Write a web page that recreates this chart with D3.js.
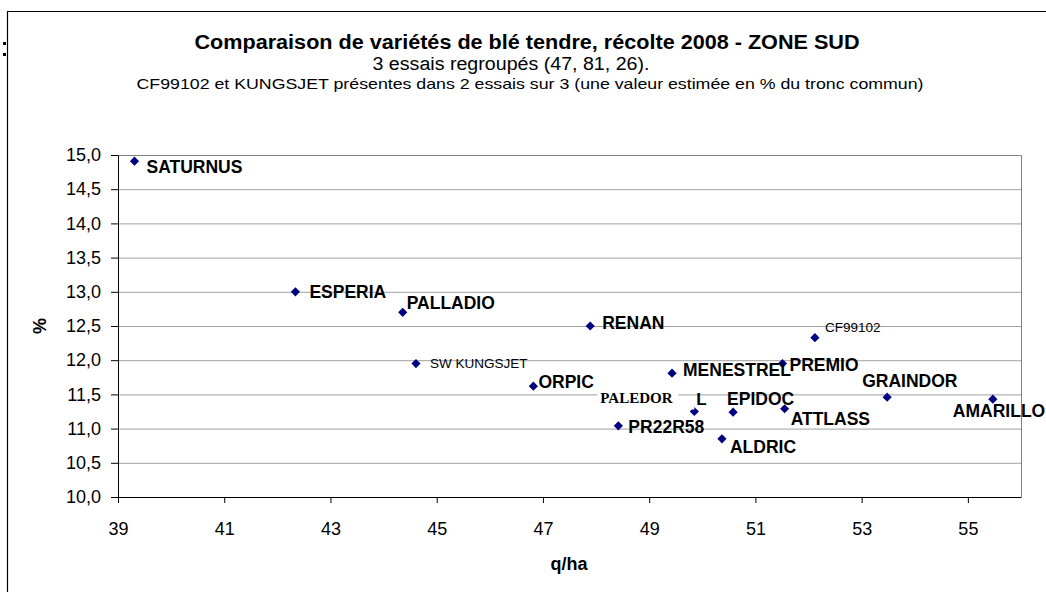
<!DOCTYPE html>
<html>
<head>
<meta charset="utf-8">
<script src="https://cdn.jsdelivr.net/npm/d3@7"></script>
<style>
	body { margin: 0; background: #fff; }
	svg text { font-family: "Liberation Sans", Arial, sans-serif; }
</style>
</head>
<body>
<script>

// data
var varietes = ["SATURNUS", "ESPERIA", "PALLADIO", "SW KUNGSJET", "ORPIC", "RENAN", "CF99102", "MENESTREL",
                "PREMIO", "PALEDOR", "EPIDOC", "ATTLASS", "PR22R58", "ALDRIC", "GRAINDOR", "AMARILLO"];
var rendement = [39.31, 42.34, 44.36, 44.61, 46.82, 47.89, 52.12, 49.43,
                 51.51, 49.85, 50.58, 51.55, 48.42, 50.37, 53.48, 55.47];
var proteines = [14.91, 13.00, 12.70, 11.95, 11.62, 12.50, 12.33, 11.81,
                 11.95, 11.25, 11.24, 11.29, 11.04, 10.85, 11.46, 11.43];
var xTicks = [39, 41, 43, 45, 47, 49, 51, 53, 55];
var yTicks = [10.0, 10.5, 11.0, 11.5, 12.0, 12.5, 13.0, 13.5, 14.0, 14.5, 15.0];

var titre = "Comparaison de variétés de blé tendre, récolte 2008 - ZONE SUD";
var sousTitre = "3 essais regroupés (47, 81, 26).";
var note = "CF99102 et KUNGSJET présentes dans 2 essais sur 3 (une valeur estimée en % du tronc commun)";

// label placement (offset of text start / baseline from the point)
var labelPos = {
	"SATURNUS":    {dx: 12, dy: 12},
	"ESPERIA":     {dx: 14, dy: 6},
	"PALLADIO":    {dx: 4, dy: -3},
	"SW KUNGSJET": {dx: 14, dy: 4, small: true},
	"ORPIC":       {dx: 5, dy: 2},
	"RENAN":       {dx: 12, dy: 3},
	"CF99102":     {dx: 10, dy: -6, small: true},
	"MENESTREL":   {dx: 11, dy: 3},
	"PREMIO":      {dx: 7, dy: 7},
	"PALEDOR":     {dx: -94, dy: -9, serif: true},
	"EPIDOC":      {dx: -6, dy: -7},
	"ATTLASS":     {dx: 6, dy: 16},
	"PR22R58":     {dx: 10, dy: 7},
	"ALDRIC":      {dx: 8, dy: 14},
	"GRAINDOR":    {dx: -25, dy: -10},
	"AMARILLO":    {dx: -40, dy: 18}
};

var points = varietes.map(function(v, i){
	return {name: v, q: rendement[i], p: proteines[i]};
});

var width = 1046;
var height = 592;
var plot = {left: 118, right: 1021, top: 155, bottom: 497};

var svg = d3.select("body")
			.append("svg")
			.attr("width", width)
			.attr("height", height);

// outer frame of the chart
svg.append("path")
	.attr("d", "M7.5," + height + "V11.5H" + width)
	.attr("fill", "none")
	.attr("stroke", "#000")
	.attr("stroke-width", 1.2);
svg.append("rect").attr("x", 3).attr("y", 42).attr("width", 3).attr("height", 3).attr("fill", "#000");
svg.append("rect").attr("x", 3).attr("y", 53).attr("width", 3).attr("height", 3).attr("fill", "#000");

// titles
svg.append("text")
	.attr("x", 527)
	.attr("y", 49)
	.attr("text-anchor", "middle")
	.attr("font-size", "20px")
	.attr("font-weight", "bold")
	.attr("textLength", 665)
	.attr("lengthAdjust", "spacingAndGlyphs")
	.text(titre);
svg.append("text")
	.attr("x", 511)
	.attr("y", 70)
	.attr("text-anchor", "middle")
	.attr("font-size", "18px")
	.attr("textLength", 277)
	.attr("lengthAdjust", "spacingAndGlyphs")
	.text(sousTitre);
svg.append("text")
	.attr("x", 530)
	.attr("y", 89)
	.attr("text-anchor", "middle")
	.attr("font-size", "15px")
	.attr("textLength", 787)
	.attr("lengthAdjust", "spacingAndGlyphs")
	.text(note);

var x = d3.scaleLinear().domain([39, 56]).range([plot.left, plot.right]);
var y = d3.scaleLinear().domain([10, 15]).range([plot.bottom, plot.top]);

// horizontal grid lines
svg.append("g")
	.attr("transform", "translate(" + plot.left + ",0)")
	.call(d3.axisLeft(y).tickValues(yTicks).tickSize(-(plot.right - plot.left)).tickFormat(""))
	.call(function(g){
		g.select(".domain").remove();
		g.selectAll("line").attr("stroke", "#a0a0a0");
	});

// plot border, top and right
svg.append("path")
	.attr("d", "M" + plot.left + "," + (plot.top + 0.5) + "H" + (plot.right + 0.5) + "V" + plot.bottom)
	.attr("fill", "none")
	.attr("stroke", "#808080");

// y axis
svg.append("g")
	.attr("transform", "translate(" + plot.left + ",0)")
	.call(d3.axisLeft(y).tickValues(yTicks).tickSize(7).tickSizeOuter(0).tickPadding(10)
		.tickFormat(function(d){ return d.toFixed(1).replace(".", ","); }))
	.call(function(g){
		g.select(".domain").attr("stroke", "#000");
		g.selectAll("text").attr("font-size", "18px").attr("fill", "#000").style("font-family", "Liberation Sans, Arial, sans-serif");
	});

// x axis
svg.append("g")
	.attr("transform", "translate(0," + plot.bottom + ")")
	.call(d3.axisBottom(x).tickValues(xTicks).tickSize(6).tickSizeOuter(0).tickPadding(19)
		.tickFormat(d3.format("d")))
	.call(function(g){
		g.selectAll("text").attr("font-size", "18px").attr("fill", "#000").style("font-family", "Liberation Sans, Arial, sans-serif");
	});

// axis titles
svg.append("text")
	.attr("x", 569)
	.attr("y", 570)
	.attr("text-anchor", "middle")
	.attr("font-size", "18px")
	.attr("font-weight", "bold")
	.text("q/ha");
svg.append("text")
	.attr("transform", "translate(46,326) rotate(-90)")
	.attr("text-anchor", "middle")
	.attr("font-size", "18px")
	.attr("font-weight", "bold")
	.text("%");

// points
var diamond = d3.symbol().type(d3.symbolSquare).size(42);
svg.selectAll(".pt")
	.data(points)
	.enter()
	.append("path")
	.attr("class", "pt")
	.attr("d", diamond)
	.attr("fill", "#000080")
	.attr("transform", function(d){
		return "translate(" + x(d.q) + "," + y(d.p) + ") rotate(45)";
	});

// PALEDOR label box sits over its own point
var pal = points.filter(function(d){ return d.name == "PALEDOR"; })[0];
svg.append("rect")
	.attr("x", x(pal.q) - 97)
	.attr("y", y(pal.p) - 25)
	.attr("width", 81)
	.attr("height", 20)
	.attr("fill", "#fff");
svg.append("rect")
	.attr("x", x(pal.q) - 10)
	.attr("y", y(pal.p) - 12)
	.attr("width", 10)
	.attr("height", 10)
	.attr("fill", "#fff");
svg.append("text")
	.attr("x", x(pal.q) + 2)
	.attr("y", y(pal.p) - 7)
	.attr("font-size", "17px")
	.attr("font-weight", "bold")
	.text("L");

// labels
svg.selectAll(".lbl")
	.data(points)
	.enter()
	.append("text")
	.attr("class", "lbl")
	.attr("x", function(d){ return x(d.q) + labelPos[d.name].dx; })
	.attr("y", function(d){ return y(d.p) + labelPos[d.name].dy; })
	.attr("font-size", function(d){
		var l = labelPos[d.name];
		return l.small ? "13.5px" : (l.serif ? "15px" : "17.5px");
	})
	.attr("font-weight", function(d){ return labelPos[d.name].small ? "normal" : "bold"; })
	.style("font-family", function(d){
		return labelPos[d.name].serif ? "Liberation Serif, Times New Roman, serif" : null;
	})
	.text(function(d){ return d.name; });

</script>
</body>
</html>
